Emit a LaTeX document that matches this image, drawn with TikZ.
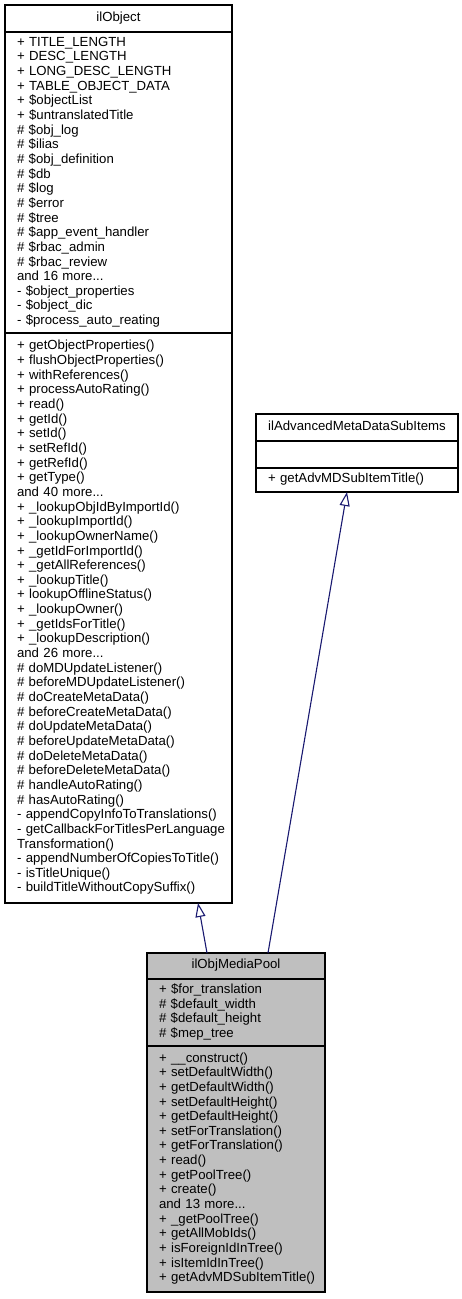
\documentclass[tikz,border=0pt]{standalone}
\usepackage{fontspec}
\setmainfont{Liberation Sans}
\usetikzlibrary{arrows.meta}

\definecolor{edgeblue}{RGB}{25,25,112}
\definecolor{focusgray}{RGB}{191,191,191}

\newcommand{\umlfont}{\fontsize{13.2}{14.65}\selectfont}
\hyphenpenalty=10000
\exhyphenpenalty=10000

\begin{document}
\begin{tikzpicture}[x=1pt, y=-1pt,
  part/.style={draw, line width=1.1pt, anchor=north west, outer sep=0pt,
    inner ysep=0pt, font=\umlfont, execute at begin node=\strut,
    execute at end node=\strut},
  head/.style={part, inner xsep=0pt, align=center},
  members/.style={part, inner xsep=12pt, align=left},
  inherit/.style={edgeblue, line width=1.1pt,
    -{Triangle[open, length=14pt, width=10pt]}}]

  \useasboundingbox (0,0) rectangle (461,1299);

  % base class, the long one on the left
  \node[head, minimum width=227pt, minimum height=27pt] (objtitle) at (5,5) {ilObject};
  \node[members, text width=203pt, minimum height=301pt] (objattr) at (objtitle.south west) {%
    + TITLE\_LENGTH\\
    + DESC\_LENGTH\\
    + LONG\_DESC\_LENGTH\\
    + TABLE\_OBJECT\_DATA\\
    + \$objectList\\
    + \$untranslatedTitle\\
    \# \$obj\_log\\
    \# \$ilias\\
    \# \$obj\_definition\\
    \# \$db\\
    \# \$log\\
    \# \$error\\
    \# \$tree\\
    \# \$app\_event\_handler\\
    \# \$rbac\_admin\\
    \# \$rbac\_review\\
    and 16 more...\\
    - \$object\_properties\\
    - \$object\_dic\\
    - \$process\_auto\_reating};
  \node[members, text width=203pt, minimum height=570pt] (objmeth) at (objattr.south west) {%
    + getObjectProperties()\\
    + flushObjectProperties()\\
    + withReferences()\\
    + processAutoRating()\\
    + read()\\
    + getId()\\
    + setId()\\
    + setRefId()\\
    + getRefId()\\
    + getType()\\
    and 40 more...\\
    + \_lookupObjIdByImportId()\\
    + \_lookupImportId()\\
    + \_lookupOwnerName()\\
    + \_getIdForImportId()\\
    + \_getAllReferences()\\
    + \_lookupTitle()\\
    + lookupOfflineStatus()\\
    + \_lookupOwner()\\
    + \_getIdsForTitle()\\
    + \_lookupDescription()\\
    and 26 more...\\
    \# doMDUpdateListener()\\
    \# beforeMDUpdateListener()\\
    \# doCreateMetaData()\\
    \# beforeCreateMetaData()\\
    \# doUpdateMetaData()\\
    \# beforeUpdateMetaData()\\
    \# doDeleteMetaData()\\
    \# beforeDeleteMetaData()\\
    \# handleAutoRating()\\
    \# hasAutoRating()\\
    - appendCopyInfoToTranslations()\\
    \mbox{- getCallbackForTitlesPerLanguage}\\
    Transformation()\\
    - appendNumberOfCopiesToTitle()\\
    - isTitleUnique()\\
    - buildTitleWithoutCopySuffix()};

  % the interface on the right
  \node[head, minimum width=202pt, minimum height=27pt] (advtitle) at (256,414) {ilAdvancedMetaDataSubItems};
  \node[members, text width=178pt, minimum height=27pt] (advattr) at (advtitle.south west) {};
  \node[members, text width=178pt, minimum height=24pt] (advmeth) at (advattr.south west) {+ getAdvMDSubItemTitle()};

  % the class itself, greyed
  \node[head, fill=focusgray, minimum width=178pt, minimum height=26pt] (mptitle) at (147,953) {ilObjMediaPool};
  \node[members, fill=focusgray, text width=154pt, minimum height=67pt] (mpattr) at (mptitle.south west) {%
    + \$for\_translation\\
    \# \$default\_width\\
    \# \$default\_height\\
    \# \$mep\_tree};
  \node[members, fill=focusgray, text width=154pt, minimum height=246pt] (mpmeth) at (mpattr.south west) {%
    + \_\_construct()\\
    + setDefaultWidth()\\
    + getDefaultWidth()\\
    + setDefaultHeight()\\
    + getDefaultHeight()\\
    + setForTranslation()\\
    + getForTranslation()\\
    + read()\\
    + getPoolTree()\\
    + create()\\
    and 13 more...\\
    + \_getPoolTree()\\
    + getAllMobIds()\\
    + isForeignIdInTree()\\
    + isItemIdInTree()\\
    \mbox{+ getAdvMDSubItemTitle()}};

  % inheritance
  \draw[inherit] ([xshift=60pt]mptitle.north west) -- ([xshift=193pt]objmeth.south west);
  \draw[inherit] ([xshift=121pt]mptitle.north west) -- ([xshift=91pt]advmeth.south west);

\end{tikzpicture}
\end{document}
